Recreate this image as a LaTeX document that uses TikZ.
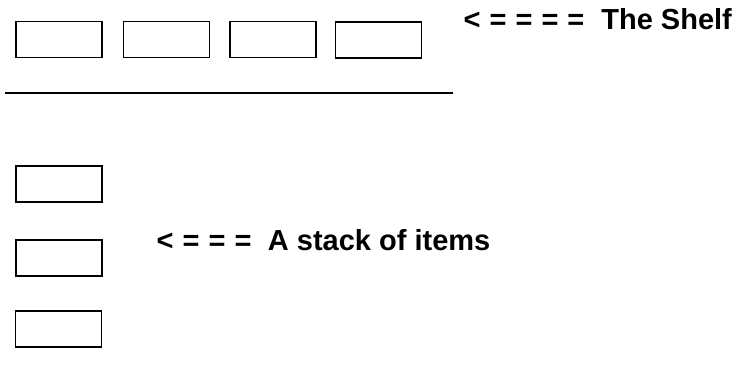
\documentclass[tikz,border=0pt]{standalone}
\usepackage{fontspec}
\setmainfont{Liberation Sans}
\begin{document}
\begin{tikzpicture}[x=1pt,y=-1pt,
  item/.style={draw, line width=1.8pt, minimum width=86pt, minimum height=36pt, inner sep=0pt},
  lbl/.style={font=\fontsize{29}{35}\selectfont\bfseries, inner sep=0pt, anchor=base west}]
\useasboundingbox (0,0) rectangle (740,380);
% shelf items
\node[item] (s1) at (59,39.5) {};
\node[item] (s2) at (166.5,39.5) {};
\node[item] (s3) at (273,39.5) {};
\node[item] (s4) at (378.5,40) {};
% shelf line
\coordinate (shelfL) at (5,93);
\coordinate (shelfR) at (453,93);
\draw[line width=1.8pt] (shelfL) -- (shelfR);
% stack items
\node[item] (k1) at (59,184) {};
\node[item] (k2) at (59,258) {};
\node[item] (k3) at (58.5,329) {};
% labels
\node[lbl] (shelfLabel) at (463.5,30) {<\hspace{9pt}=\hspace{9pt}=\hspace{9pt}=\hspace{9pt}=\hspace{17pt}The Shelf};
\node[lbl] (stackLabel) at (156.5,250) {<\hspace{9pt}=\hspace{9pt}=\hspace{9pt}=\hspace{16.5pt}A stack of items};
\end{tikzpicture}
\end{document}
